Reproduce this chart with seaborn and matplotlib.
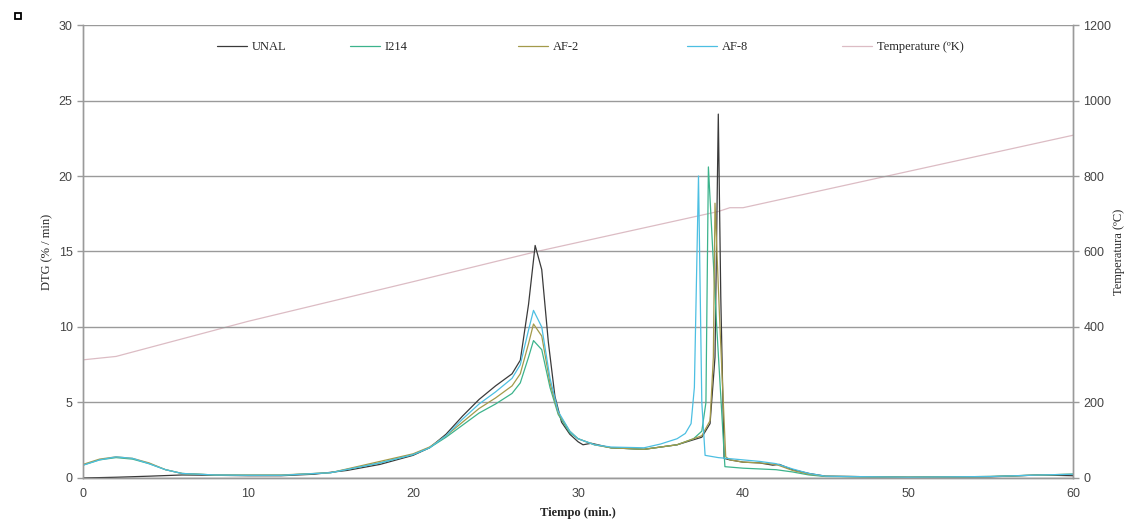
import numpy as np
import pandas as pd
import matplotlib
matplotlib.use("Agg")
import matplotlib.pyplot as plt
from matplotlib.patches import Rectangle
import seaborn as sns

# DTG curves (time in min, DTG in %/min)
unal_t = [0, 2, 4, 6, 8, 10, 12, 14, 16, 18, 20, 21, 22, 23, 24, 25, 26, 26.5, 27, 27.4,
          27.8, 28.2, 28.6, 29, 29.5, 30, 30.3, 30.8, 32, 34, 36, 37.5, 38.0, 38.3, 38.5,
          38.65, 38.85, 39.2, 40, 41, 41.8, 42.2, 43, 44, 45, 50, 55, 58, 60]
unal_v = [0.0, 0.05, 0.12, 0.2, 0.18, 0.15, 0.15, 0.25, 0.5, 0.9, 1.5, 2.0, 2.9, 4.1, 5.2, 6.1,
          6.9, 7.8, 11.5, 15.4, 13.8, 9.0, 5.4, 3.7, 2.9, 2.4, 2.2, 2.3, 2.0, 1.9, 2.2, 2.7,
          3.6, 8.0, 24.1, 12.0, 1.3, 1.2, 1.05, 1.0, 0.85, 0.9, 0.55, 0.3, 0.12, 0.05, 0.08,
          0.2, 0.15]

i214_t = [0, 1, 2, 3, 4, 5, 6, 8, 10, 12, 15, 18, 20, 21, 22, 23, 24, 25, 26, 26.5, 27, 27.3,
          27.8, 28.3, 28.8, 29.5, 30, 31, 32, 34, 36, 37.0, 37.5, 37.75, 37.9, 38.4, 38.9,
          40, 41, 42, 43, 44, 45, 50, 55, 58, 60]
i214_v = [0.85, 1.2, 1.35, 1.25, 0.95, 0.55, 0.3, 0.2, 0.18, 0.18, 0.35, 1.0, 1.55, 2.0, 2.7,
          3.5, 4.3, 4.9, 5.6, 6.3, 8.0, 9.1, 8.5, 6.0, 4.2, 3.0, 2.6, 2.2, 2.0, 1.9, 2.2, 2.6,
          3.1, 5.0, 20.6, 10.1, 0.75, 0.65, 0.6, 0.55, 0.4, 0.2, 0.1, 0.05, 0.1, 0.2, 0.25]

af2_t = [0, 1, 2, 3, 4, 5, 6, 8, 10, 12, 15, 18, 20, 21, 22, 23, 24, 25, 26, 26.5, 27, 27.3,
         27.8, 28.3, 28.8, 29.5, 30, 31, 32, 34, 36, 37.5, 38.0, 38.2, 38.3, 38.6, 38.95,
         39.2, 40, 41, 42, 43, 44, 45, 50, 55, 58, 60]
af2_v = [0.9, 1.25, 1.4, 1.3, 1.0, 0.55, 0.3, 0.2, 0.2, 0.2, 0.35, 1.1, 1.6, 2.05, 2.8, 3.7,
         4.6, 5.3, 6.1, 6.9, 8.9, 10.2, 9.4, 6.3, 4.3, 3.1, 2.6, 2.2, 2.0, 1.9, 2.2, 2.8, 3.8,
         8.0, 18.2, 10.0, 1.4, 1.2, 1.05, 1.0, 0.9, 0.5, 0.25, 0.12, 0.05, 0.1, 0.2, 0.25]

af8_t = [0, 1, 2, 3, 4, 5, 6, 8, 10, 12, 15, 18, 20, 21, 22, 23, 24, 25, 26, 26.5, 27, 27.3,
         27.8, 28.3, 28.8, 29.5, 30, 31, 32, 34, 35, 36, 36.5, 36.85, 37.05, 37.3, 37.5,
         37.7, 38.5, 40, 41, 42, 43, 44, 45, 50, 55, 58, 60]
af8_v = [0.85, 1.2, 1.4, 1.3, 0.95, 0.55, 0.3, 0.2, 0.18, 0.18, 0.35, 1.0, 1.55, 2.0, 2.8,
         3.9, 4.9, 5.7, 6.6, 7.5, 9.8, 11.1, 10.0, 6.6, 4.4, 3.1, 2.6, 2.2, 2.05, 2.0, 2.25,
         2.6, 2.95, 3.6, 6.0, 20.0, 5.0, 1.5, 1.35, 1.2, 1.1, 0.95, 0.6, 0.3, 0.12, 0.05, 0.1,
         0.2, 0.25]

# temperature (K) on the right axis
temp_t = [0, 2, 10, 20, 27.5, 38.5, 39.2, 40, 50, 60]
temp_v = [313, 322, 415, 520, 600, 706, 716, 716, 812, 908]

names = ["UNAL", "I214", "AF-2", "AF-8", "Temperature (ºK)"]
colors = ["#3a3a3a", "#3cb38c", "#a39a4a", "#4cbfe2", "#dcbcc4"]
series = [(unal_t, unal_v), (i214_t, i214_v), (af2_t, af2_v), (af8_t, af8_v)]
# legend text positions (figure pixels) as in the original
legend_x = [252, 385, 553, 722, 877]

sns.set_style("white")
plt.rcParams["font.family"] = ["Liberation Serif", "DejaVu Serif"]

W, H = 1128, 522
fig = plt.figure(figsize=(W / 100, H / 100), dpi=100)
ax = fig.add_axes([0.0736, 0.0843, 0.8777, 0.8678])
ax2 = ax.twinx()

handles = []
for name, col, (t, v) in zip(names, colors, series):
    df = pd.DataFrame({"t": t, "v": v})
    sns.lineplot(data=df, x="t", y="v", ax=ax, color=col, linewidth=0.9, legend=False)
    handles.append(ax.lines[-1])

tdf = pd.DataFrame({"t": temp_t, "T": temp_v})
sns.lineplot(data=tdf, x="t", y="T", ax=ax2, color=colors[4], linewidth=0.9, legend=False)
handles.append(ax2.lines[-1])

ax.set_xlim(0, 60)
ax.set_ylim(0, 30)
ax2.set_ylim(0, 1200)
ax.set_xticks(range(0, 61, 10))
ax.set_yticks(range(0, 31, 5))
ax2.set_yticks(range(0, 1201, 200))

ax.yaxis.grid(True, color="#9a9a9a", linewidth=1.0)
ax.set_axisbelow(True)
ax.set_zorder(ax2.get_zorder() + 1)
ax.patch.set_visible(False)

for a in (ax, ax2):
    for s in a.spines.values():
        s.set_color("#9a9a9a")
        s.set_linewidth(1.0)
    a.spines["top"].set_visible(False)
    a.tick_params(direction="out", length=4, width=1, color="#9a9a9a",
                  labelsize=9, labelcolor="#444444")
    for lab in a.get_xticklabels() + a.get_yticklabels():
        lab.set_family(["Liberation Sans", "DejaVu Sans"])

ax.set_xlabel("Tiempo (min.)", fontsize=9, fontweight="bold", labelpad=5)
ax.set_ylabel("DTG (% / min)", fontsize=9, labelpad=4)
ax2.set_ylabel("Temperatura (ºC)", fontsize=9, labelpad=1)

# one-entry legends placed where each entry sits in the original
for h, name, tx in zip(handles, names, legend_x):
    x0 = (tx - 35) / W
    fig.legend([h], [name], loc="center left", bbox_to_anchor=(x0, 1 - 47 / H),
               frameon=False, fontsize=9, handlelength=2.4, handletextpad=0.4,
               borderpad=0, borderaxespad=0)

# small square mark in the corner of the original image
fig.patches.append(Rectangle((0.0135, 0.9645), 0.0055, 0.011, transform=fig.transFigure,
                             fill=False, edgecolor="black", linewidth=1.3))

fig.savefig("out.png", dpi=100)
